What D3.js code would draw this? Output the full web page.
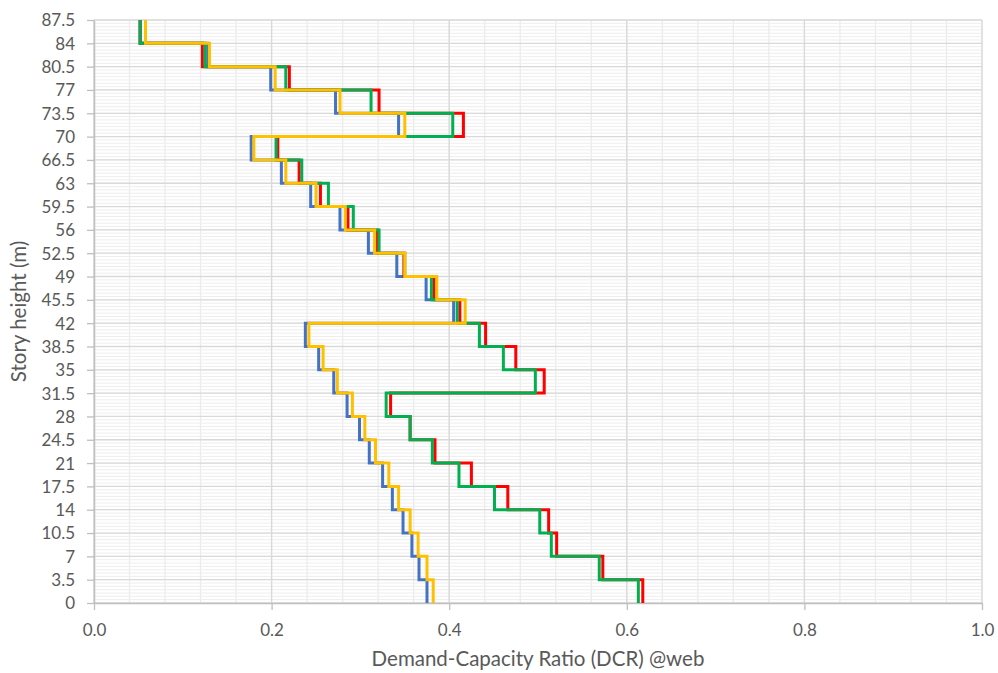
<!DOCTYPE html>
<html>
<head>
<meta charset="utf-8">
<script src="https://cdn.jsdelivr.net/npm/d3@7"></script>
<style>
  html, body { margin: 0; padding: 0; background: #fff; }
  svg { display: block; font-family: Lato, "Open Sans", sans-serif; }
</style>
</head>
<body>
<svg id="chart" width="998" height="673"></svg>
<script>
// Story levels (m) – bottom of each story, top is +3.5
const storyHeight = 3.5;
const storyBottoms = [0, 3.5, 7, 10.5, 14, 17.5, 21, 24.5, 28, 31.5, 35, 38.5, 42, 45.5, 49, 52.5, 56, 59.5, 63, 66.5, 70, 73.5, 77, 80.5, 84];

// DCR values per story, bottom to top
const blueDCR   = [0.375, 0.366, 0.358, 0.348, 0.336, 0.325, 0.310, 0.299, 0.285, 0.270, 0.253, 0.238, 0.405, 0.374, 0.341, 0.309, 0.277, 0.244, 0.211, 0.177, 0.343, 0.272, 0.199, 0.128, 0.052];
const redDCR    = [0.618, 0.573, 0.521, 0.512, 0.466, 0.425, 0.384, 0.356, 0.334, 0.507, 0.475, 0.441, 0.412, 0.383, 0.349, 0.319, 0.286, 0.255, 0.231, 0.207, 0.416, 0.321, 0.220, 0.122, 0.052];
const greenDCR  = [0.613, 0.569, 0.515, 0.502, 0.451, 0.411, 0.381, 0.356, 0.329, 0.497, 0.461, 0.434, 0.409, 0.380, 0.350, 0.321, 0.292, 0.264, 0.234, 0.205, 0.404, 0.312, 0.216, 0.125, 0.052];
const yellowDCR = [0.382, 0.375, 0.365, 0.356, 0.343, 0.332, 0.317, 0.305, 0.291, 0.274, 0.258, 0.242, 0.418, 0.386, 0.350, 0.316, 0.283, 0.250, 0.216, 0.180, 0.350, 0.277, 0.204, 0.130, 0.058];

const seriesNames  = ["Series 1", "Series 2", "Series 3", "Series 4"];
const seriesColors = ["#4472C4", "#FF0000", "#00B050", "#FFC000"];

const xTicks = [0, 0.2, 0.4, 0.6, 0.8, 1.0];
const yTicks = [0, 3.5, 7, 10.5, 14, 17.5, 21, 24.5, 28, 31.5, 35, 38.5, 42, 45.5, 49, 52.5, 56, 59.5, 63, 66.5, 70, 73.5, 77, 80.5, 84, 87.5];
const xTitle = "Demand-Capacity Ratio (DCR) @web";
const yTitle = "Story height (m)";

const svg = d3.select("#chart");
const margin = { left: 94, right: 16, top: 20, bottom: 70 };
const W = 998, H = 673;

const x = d3.scaleLinear().domain([0, 1.0]).range([margin.left, W - margin.right]);
const y = d3.scaleLinear().domain([0, 87.5]).range([H - margin.bottom, margin.top]);

// minor grid
const minorX = d3.range(0, 1.0001, 0.04);
const minorY = d3.range(0, 87.5001, 0.5);
const grid = svg.append("g");
grid.selectAll("line.mx").data(minorX).join("line")
  .attr("x1", d => x(d)).attr("x2", d => x(d))
  .attr("y1", y(0)).attr("y2", y(87.5))
  .attr("stroke", "#ebebeb").attr("stroke-width", 1.3);
grid.selectAll("line.my").data(minorY).join("line")
  .attr("y1", d => y(d)).attr("y2", d => y(d))
  .attr("x1", x(0)).attr("x2", x(1))
  .attr("stroke", "#eeeeee").attr("stroke-width", 1);
// major grid
grid.selectAll("line.Mx").data(xTicks).join("line")
  .attr("x1", d => x(d)).attr("x2", d => x(d))
  .attr("y1", y(0)).attr("y2", y(87.5))
  .attr("stroke", "#d9d9d9").attr("stroke-width", 1.3);
grid.selectAll("line.My").data(yTicks).join("line")
  .attr("y1", d => y(d)).attr("y2", d => y(d))
  .attr("x1", x(0)).attr("x2", x(1))
  .attr("stroke", "#d9d9d9").attr("stroke-width", 1.3);

// axes
const xAxis = d3.axisBottom(x).tickValues(xTicks).tickFormat(d3.format(".1f"))
  .tickSizeInner(7).tickSizeOuter(0).tickPadding(14);
const yAxis = d3.axisLeft(y).tickValues(yTicks).tickFormat(d => String(d))
  .tickSizeInner(7).tickSizeOuter(0).tickPadding(12);

const gx = svg.append("g").attr("transform", `translate(0,${y(0)})`).call(xAxis);
const gy = svg.append("g").attr("transform", `translate(${x(0)},0)`).call(yAxis);
[gx, gy].forEach(g => {
  g.select(".domain").attr("stroke", "#bfbfbf").attr("stroke-width", 1.5);
  g.selectAll(".tick line").attr("stroke", "#bfbfbf").attr("stroke-width", 1.3);
  g.selectAll(".tick text").attr("fill", "#595959").attr("font-size", 17)
    .attr("font-family", "Lato, 'Open Sans', sans-serif");
});
gx.selectAll(".tick text").attr("dy", "0.71em");
gy.selectAll(".tick text").attr("dy", "0.35em");

// series step lines
const allSeries = [blueDCR, redDCR, greenDCR, yellowDCR];
const line = d3.line().x(d => x(d[0])).y(d => y(d[1]));
allSeries.forEach((vals, si) => {
  const pts = [];
  vals.forEach((v, i) => {
    pts.push([v, storyBottoms[i]]);
    pts.push([v, storyBottoms[i] + storyHeight]);
  });
  svg.append("path").datum(pts)
    .attr("d", line)
    .attr("fill", "none")
    .attr("stroke", seriesColors[si])
    .attr("stroke-width", 3)
    .attr("stroke-linejoin", "miter")
    .attr("stroke-linecap", "butt")
    .append("title").text(seriesNames[si]);
});

// titles
svg.append("text")
  .attr("x", (x(0) + x(1)) / 2).attr("y", 666)
  .attr("text-anchor", "middle").attr("fill", "#595959")
  .attr("font-size", 20.5).text(xTitle);
svg.append("text")
  .attr("transform", `translate(26,${(y(0) + y(87.5)) / 2}) rotate(-90)`)
  .attr("text-anchor", "middle").attr("fill", "#595959")
  .attr("font-size", 20.5).text(yTitle);
</script>
</body>
</html>
